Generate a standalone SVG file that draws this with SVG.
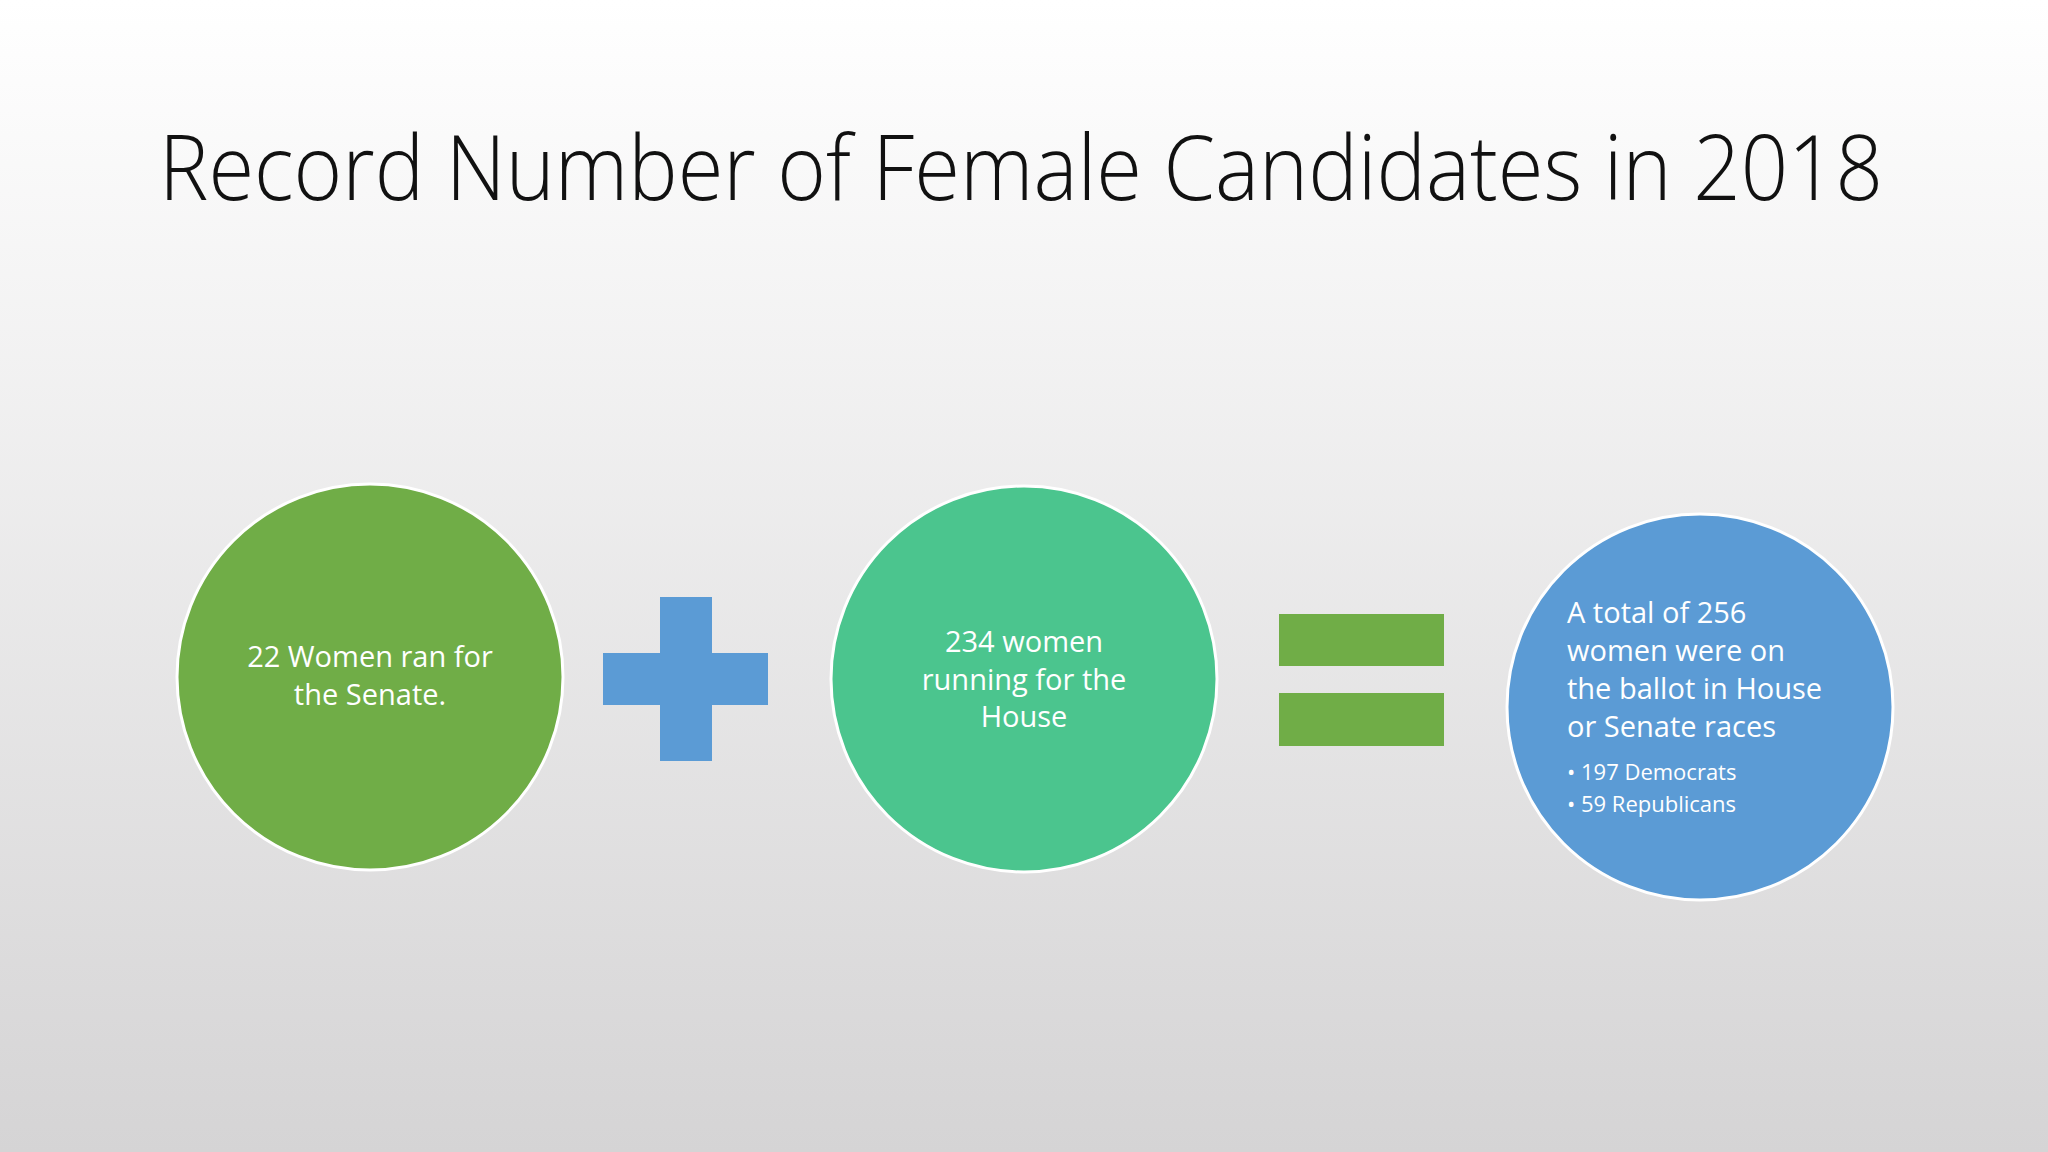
<svg xmlns="http://www.w3.org/2000/svg" width="2048" height="1152" viewBox="0 0 2048 1152">
<defs>
<linearGradient id="bg" x1="0" y1="0" x2="0" y2="1">
<stop offset="0" stop-color="#FFFFFF"/>
<stop offset="1" stop-color="#D5D4D5"/>
</linearGradient>
</defs>
<style>
.c{stroke:#FFFFFF;stroke-width:3}
.t{font-family:"Open Sans","Liberation Sans",sans-serif;fill:#FFFFFF;font-size:29px}
.s{font-family:"Open Sans","Liberation Sans",sans-serif;fill:#FFFFFF;font-size:22px}
</style>
<rect width="2048" height="1152" fill="url(#bg)"/>
<text x="1021" y="200" text-anchor="middle" font-family="Open Sans, Liberation Sans, sans-serif" font-weight="300" font-size="90" fill="#111111" textLength="1724" lengthAdjust="spacingAndGlyphs">Record Number of Female Candidates in 2018</text>
<g id="senate">
<circle class="c" cx="370" cy="677" r="193" fill="#70AD47"/>
<text class="t" x="370" y="667" text-anchor="middle">22 Women ran for</text>
<text class="t" x="370" y="705" text-anchor="middle">the Senate.</text>
</g>
<g id="plus" fill="#5B9BD5">
<rect x="660" y="597" width="52" height="164"/>
<rect x="603" y="653" width="165" height="52"/>
</g>
<g id="house">
<circle class="c" cx="1024" cy="679" r="193" fill="#4BC58E"/>
<text class="t" x="1024" y="652" text-anchor="middle">234 women</text>
<text class="t" x="1024" y="690" text-anchor="middle">running for the</text>
<text class="t" x="1024" y="727" text-anchor="middle">House</text>
</g>
<g id="equals" fill="#70AD47">
<rect x="1279" y="614" width="165" height="52"/>
<rect x="1279" y="693" width="165" height="53"/>
</g>
<g id="total">
<circle class="c" cx="1700" cy="707" r="193" fill="#5B9BD5"/>
<text class="t" x="1567" y="623">A total of 256</text>
<text class="t" x="1567" y="661">women were on</text>
<text class="t" x="1567" y="699">the ballot in House</text>
<text class="t" x="1567" y="737">or Senate races</text>
<text class="s" x="1567" y="780">• 197 Democrats</text>
<text class="s" x="1567" y="812">• 59 Republicans</text>
</g>
<g id="connectors"/>
</svg>
